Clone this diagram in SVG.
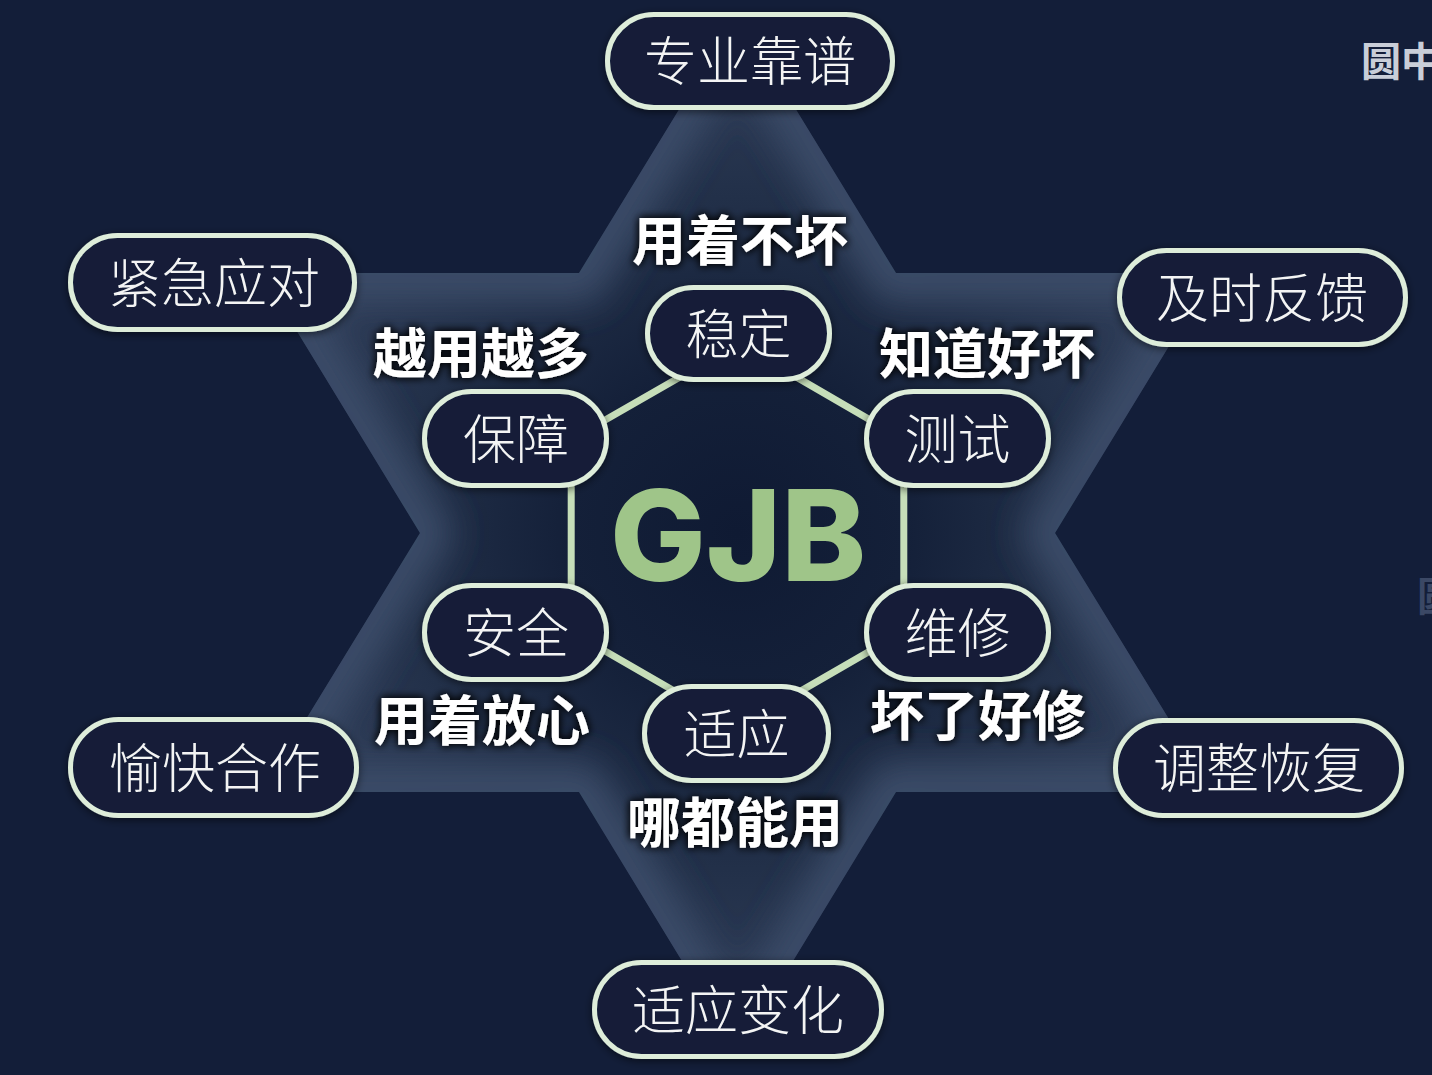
<svg xmlns="http://www.w3.org/2000/svg" width="1432" height="1075" viewBox="0 0 1432 1075">
<defs>
  <radialGradient id="starFill" gradientUnits="userSpaceOnUse" cx="737" cy="533" r="560">
    <stop offset="0" stop-color="#0f1a33"/>
    <stop offset="0.3" stop-color="#142039"/>
    <stop offset="0.6" stop-color="#223049"/>
    <stop offset="0.85" stop-color="#2e3c57"/>
    <stop offset="1" stop-color="#36465f"/>
  </radialGradient>
  <clipPath id="starClip">
    <polygon points="737.5,14 896,273 1213.5,273 1055,533 1213.5,792 896,792 737.5,1052 579,792 261.5,792 420,533 261.5,273 579,273"/>
  </clipPath>
  <filter id="blurGlow" x="-20%" y="-20%" width="140%" height="140%">
    <feGaussianBlur stdDeviation="18"/>
  </filter>
  <filter id="nodeShadow" x="-20%" y="-30%" width="140%" height="160%">
    <feDropShadow dx="0" dy="2" stdDeviation="4" flood-color="#000000" flood-opacity="0.55"/>
  </filter>
  <filter id="textShadow" x="-20%" y="-40%" width="140%" height="180%">
    <feGaussianBlur in="SourceAlpha" stdDeviation="4" result="b"/>
    <feFlood flood-color="#000000" flood-opacity="0.85"/>
    <feComposite in2="b" operator="in" result="s"/>
    <feMerge><feMergeNode in="s"/><feMergeNode in="s"/><feMergeNode in="SourceGraphic"/></feMerge>
  </filter>
</defs>
<style>
  .node rect { fill: #121d38; stroke: #deedda; stroke-width: 5; }
  .node text { font-family: "Noto Sans CJK SC", "Noto Sans", sans-serif; font-size: 53px; font-weight: 300; fill: #f4f4f4; text-anchor: middle; dominant-baseline: central; }
  .lbl { font-family: "Noto Sans CJK SC", "Noto Sans", sans-serif; font-size: 54px; font-weight: 700; fill: #ffffff; text-anchor: middle; dominant-baseline: central; }
  .conn line { stroke: #c6deb9; stroke-width: 7; stroke-linecap: round; }
</style>
<rect width="1432" height="1075" fill="#131e39"/>

<g id="star">
  <polygon points="737.5,14 896,273 1213.5,273 1055,533 1213.5,792 896,792 737.5,1052 579,792 261.5,792 420,533 261.5,273 579,273" fill="url(#starFill)"/>
  <g clip-path="url(#starClip)">
    <polygon points="737.5,14 896,273 1213.5,273 1055,533 1213.5,792 896,792 737.5,1052 579,792 261.5,792 420,533 261.5,273 579,273" fill="none" stroke="#3b4b67" stroke-width="60" filter="url(#blurGlow)"/>
  </g>
</g>

<g id="connectors" class="conn">
  <line x1="738.5" y1="343.5" x2="903.8" y2="439.5"/>
  <line x1="903.8" y1="439.5" x2="903.8" y2="631.5"/>
  <line x1="903.8" y1="631.5" x2="737.5" y2="727.5"/>
  <line x1="737.5" y1="727.5" x2="571.2" y2="631.5"/>
  <line x1="571.2" y1="631.5" x2="571.2" y2="439.5"/>
  <line x1="571.2" y1="439.5" x2="738.5" y2="343.5"/>
</g>

<g id="gjb">
  <text x="738" y="581" font-family="Inter, 'Liberation Sans', sans-serif" font-size="126" font-weight="800" fill="#9fc589" text-anchor="middle" textLength="256" lengthAdjust="spacingAndGlyphs">GJB</text>
</g>

<g id="node-zhuanye" class="node" filter="url(#nodeShadow)"><rect x="607.5" y="14.5" width="285" height="93" rx="46.5"/><text x="750" y="58">专业靠谱</text></g>
<g id="node-jinji" class="node" filter="url(#nodeShadow)"><rect x="70.5" y="235.5" width="284" height="94" rx="47"/><text x="214" y="279.5">紧急应对</text></g>
<g id="node-jishi" class="node" filter="url(#nodeShadow)"><rect x="1119.5" y="250.5" width="286" height="94" rx="47"/><text x="1262" y="294.5">及时反馈</text></g>
<g id="node-yukuai" class="node" filter="url(#nodeShadow)"><rect x="70.5" y="719.5" width="286" height="96" rx="48"/><text x="215" y="764.5">愉快合作</text></g>
<g id="node-tiaozheng" class="node" filter="url(#nodeShadow)"><rect x="1115.5" y="720.5" width="286" height="95" rx="47.5"/><text x="1259" y="765">调整恢复</text></g>
<g id="node-shiyingbianhua" class="node" filter="url(#nodeShadow)"><rect x="594.5" y="962.5" width="287" height="94" rx="47"/><text x="738" y="1006.5">适应变化</text></g>

<g id="node-wending" class="node" filter="url(#nodeShadow)"><rect x="647.5" y="287.5" width="182" height="92" rx="46"/><text x="738.5" y="330.5">稳定</text></g>
<g id="node-baozhang" class="node" filter="url(#nodeShadow)"><rect x="424.5" y="391.5" width="182" height="94" rx="47"/><text x="516" y="435.5">保障</text></g>
<g id="node-ceshi" class="node" filter="url(#nodeShadow)"><rect x="866.5" y="391.5" width="182" height="94" rx="47"/><text x="957.5" y="435.5">测试</text></g>
<g id="node-anquan" class="node" filter="url(#nodeShadow)"><rect x="424.5" y="585.5" width="182" height="94" rx="47"/><text x="516" y="629.5">安全</text></g>
<g id="node-weixiu" class="node" filter="url(#nodeShadow)"><rect x="866.5" y="585.5" width="182" height="94" rx="47"/><text x="957.5" y="629.5">维修</text></g>
<g id="node-shiying" class="node" filter="url(#nodeShadow)"><rect x="644.5" y="686.5" width="184" height="94" rx="47"/><text x="736.5" y="730.5">适应</text></g>

<g id="labels" filter="url(#textShadow)">
  <text class="lbl" x="740" y="237">用着不坏</text>
  <text class="lbl" x="481" y="350">越用越多</text>
  <text class="lbl" x="987" y="350">知道好坏</text>
  <text class="lbl" x="482" y="717">用着放心</text>
  <text class="lbl" x="978" y="712">坏了好修</text>
  <text class="lbl" x="735" y="819">哪都能用</text>
</g>

<g id="corner">
  <text x="1361" y="76" font-family="'Noto Sans CJK SC', sans-serif" font-size="40" font-weight="700" fill="#c9ced8">圆中</text>
  <text x="1417" y="611" font-family="'Noto Sans CJK SC', sans-serif" font-size="40" font-weight="700" fill="#3b4865">圆</text>
</g>
</svg>
